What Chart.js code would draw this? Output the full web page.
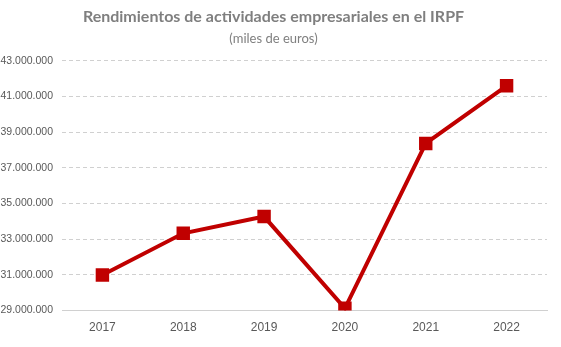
<!DOCTYPE html>
<html>
<head>
<meta charset="utf-8">
<script src="https://cdn.jsdelivr.net/npm/chart.js@4"></script>
<style>
  html, body { margin: 0; padding: 0; background: #fff; }
  #wrap { width: 561px; height: 347px; }
</style>
</head>
<body>
<div id="wrap"><canvas id="grafico" width="561" height="347"></canvas></div>
<script>
// datos (miles de euros)
const anios = ['2017', '2018', '2019', '2020', '2021', '2022'];
const rendimientos = [31000000, 33330000, 34270000, 29130000, 38370000, 41600000];
const tickMin = 29000000;
const tickMax = 43000000;
const tickPaso = 2000000;

const fmt = v => Math.round(v).toString().replace(/\B(?=(\d{3})+(?!\d))/g, '.');

const ctx = document.getElementById('grafico').getContext('2d');
const myChart = new Chart(ctx, {
    type: 'line',
    data: {
        labels: anios,
        datasets: [{
            data: rendimientos,
            borderColor: '#C00000',
            backgroundColor: '#C00000',
            borderWidth: 4,
            pointStyle: 'rect',
            pointRadius: 9.5,
            pointBorderWidth: 0,
            tension: 0
        }]
    },
    options: {
        responsive: false,
        animation: false,
        layout: { padding: { left: 0, right: 14, top: 0, bottom: 2 } },
        plugins: {
            legend: { display: false },
            tooltip: { enabled: false },
            title: {
                display: true,
                text: 'Rendimientos de actividades empresariales en el IRPF',
                color: '#7F7F7F',
                font: { family: 'Lato', size: 16, weight: 'bold' },
                padding: { top: 7, bottom: 2 }
            },
            subtitle: {
                display: true,
                text: '(miles de euros)',
                color: '#7F7F7F',
                font: { family: 'Lato', size: 13 },
                padding: { top: 3, bottom: 14 }
            }
        },
        scales: {
            x: {
                offset: true,
                grid: { display: false, drawTicks: false },
                border: { display: true, color: '#D0D0D0', width: 1 },
                ticks: {
                    color: '#595959',
                    padding: 10,
                    font: { family: 'Liberation Sans', size: 12 }
                }
            },
            y: {
                min: tickMin,
                max: tickMax,
                afterFit: function(scale) { scale.width = 62; },
                grid: { color: '#D0D0D0', drawTicks: false },
                border: { display: false, dash: [4, 3] },
                ticks: {
                    stepSize: tickPaso,
                    color: '#595959',
                    padding: 9,
                    font: { family: 'Liberation Sans', size: 10.5 },
                    callback: v => fmt(v)
                }
            }
        }
    }
});
</script>
</body>
</html>
